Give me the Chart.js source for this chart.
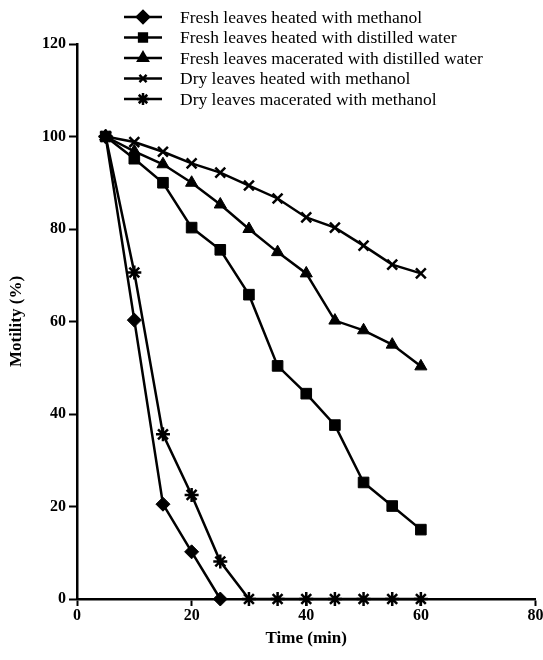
<!DOCTYPE html>
<html>
<head>
<meta charset="utf-8">
<script src="https://cdn.jsdelivr.net/npm/chart.js@4/dist/chart.umd.min.js"></script>
<style>
  html, body { margin: 0; padding: 0; background: #fff; }
  #wrap { width: 543px; height: 660px; }
</style>
</head>
<body>
<div id="wrap"><canvas id="c" width="543" height="660"></canvas></div>
<script>
// ---- data ----
const seriesNames = [
  "Fresh leaves heated with methanol",
  "Fresh leaves heated with distilled water",
  "Fresh leaves macerated with distilled water",
  "Dry leaves heated with methanol",
  "Dry leaves macerated with methanol"
];
const timeFreshHeatedMeOH = [5, 10, 15, 20, 25];
const freshHeatedMeOH     = [100, 60.3, 20.5, 10.2, 0];
const timeLong            = [5, 10, 15, 20, 25, 30, 35, 40, 45, 50, 55, 60];
const freshHeatedWater    = [100, 95.2, 90, 80.3, 75.5, 65.8, 50.4, 44.4, 37.6, 25.2, 20.1, 15];
const freshMaceratedWater = [100, 96.8, 94, 90, 85.3, 80, 75, 70.4, 60.2, 58.1, 55, 50.3];
const dryHeatedMeOH       = [100, 98.8, 96.7, 94.2, 92.2, 89.4, 86.6, 82.5, 80.3, 76.4, 72.3, 70.4];
const dryMaceratedMeOH    = [100, 70.6, 35.6, 22.5, 8.1, 0, 0, 0, 0, 0, 0, 0];
const xTicks = [0, 20, 40, 60, 80];
const yTicks = [0, 20, 40, 60, 80, 100, 120];

const pts = (xs, ys) => xs.map((x, i) => ({ x: x, y: ys[i] }));
const styles = ['rectRot', 'rect', 'triangle', 'crossRot', 'star'];
const radii  = [7, 7.5, 7, 7, 7];
const legendRadii = [6, 5.5, 5.5, 5, 6];

const FONT = "'Liberation Serif', 'Times New Roman', serif";

const seriesData = [
  pts(timeFreshHeatedMeOH, freshHeatedMeOH),
  pts(timeLong, freshHeatedWater),
  pts(timeLong, freshMaceratedWater),
  pts(timeLong, dryHeatedMeOH),
  pts(timeLong, dryMaceratedMeOH)
];

const datasets = seriesData.map((d, i) => ({
  label: seriesNames[i],
  data: d,
  borderColor: '#000',
  backgroundColor: '#000',
  borderWidth: 2.5,
  pointStyle: styles[i],
  pointRadius: radii[i],
  pointHoverRadius: radii[i],
  pointBackgroundColor: '#000',
  pointBorderColor: '#000',
  pointBorderWidth: (styles[i] === 'crossRot' || styles[i] === 'star') ? 2.5 : 1,
  tension: 0,
  clip: false
}));

const customLegend = {
  id: 'customLegend',
  afterDraw(chart) {
    const ctx = chart.ctx;
    const x0 = 124, x1 = 162, xm = 143, xt = 180;
    const y0 = 17, dy = 20.5;
    ctx.save();
    chart.data.datasets.forEach((ds, i) => {
      const y = y0 + i * dy;
      ctx.strokeStyle = '#000';
      ctx.lineWidth = 2.5;
      ctx.beginPath();
      ctx.moveTo(x0, y);
      ctx.lineTo(x1, y);
      ctx.stroke();
      ctx.fillStyle = '#000';
      Chart.helpers.drawPoint(ctx, {
        pointStyle: ds.pointStyle,
        radius: legendRadii[i],
        rotation: 0,
        borderWidth: ds.pointBorderWidth
      }, xm, y);
      ctx.fillStyle = '#000';
      ctx.font = '17.5px ' + FONT;
      ctx.textBaseline = 'middle';
      ctx.textAlign = 'left';
      ctx.fillText(ds.label, xt, y + 1);
    });
    ctx.restore();
  }
};

new Chart(document.getElementById('c'), {
  type: 'line',
  data: { datasets: datasets },
  options: {
    responsive: false,
    animation: false,
    events: [],
    layout: { autoPadding: false, padding: { left: 0, right: 7.5, top: 44, bottom: 11 } },
    plugins: { legend: { display: false }, tooltip: { enabled: false } },
    scales: {
      x: {
        type: 'linear',
        min: 0, max: 80,
        afterBuildTicks(scale) { scale.ticks = xTicks.map(v => ({ value: v })); },
        afterFit(scale) { scale.height = 50; scale.paddingRight = 0; scale.paddingLeft = 0; },
        grid: { drawOnChartArea: false, drawTicks: true, tickLength: 7, tickWidth: 2, tickColor: '#000' },
        border: { display: true, color: '#000', width: 2.5 },
        ticks: { color: '#000', font: { family: FONT, size: 16, weight: 'bold' }, padding: 0, maxRotation: 0 },
        title: { display: true, text: 'Time (min)', color: '#000', font: { family: FONT, size: 17, weight: 'bold' }, padding: { top: 2, bottom: 0 } }
      },
      y: {
        type: 'linear',
        min: 0, max: 120,
        afterBuildTicks(scale) { scale.ticks = yTicks.map(v => ({ value: v })); },
        afterFit(scale) { scale.width = 77; },
        grid: { drawOnChartArea: false, drawTicks: true, tickLength: 8, tickWidth: 2, tickColor: '#000' },
        border: { display: true, color: '#000', width: 2.5 },
        ticks: { color: '#000', font: { family: FONT, size: 16, weight: 'bold' }, padding: 3 },
        title: { display: true, text: 'Motility (%)', color: '#000', font: { family: FONT, size: 17, weight: 'bold' }, padding: { top: 6, bottom: 0 } }
      }
    }
  },
  plugins: [customLegend]
});
</script>
</body>
</html>
